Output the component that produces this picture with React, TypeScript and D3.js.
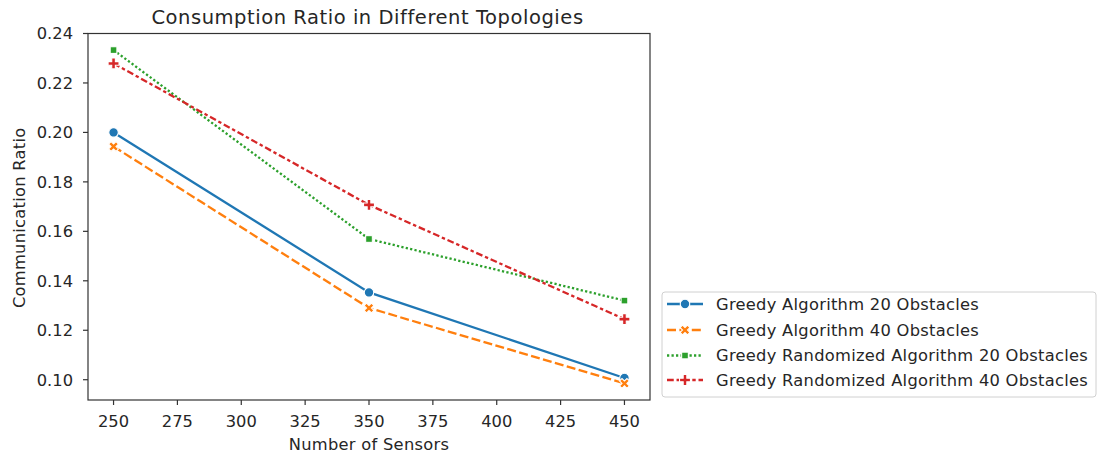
import React from "react";
import * as d3 from "d3";

const sensors = [250, 350, 450];
const greedy20 = [0.2, 0.1353, 0.1007];
const greedy40 = [0.1943, 0.129, 0.0985];
const randomized20 = [0.2333, 0.1569, 0.132];
const randomized40 = [0.2279, 0.1707, 0.1245];
const xTicks = [250, 275, 300, 325, 350, 375, 400, 425, 450];
const yTicks = [0.1, 0.12, 0.14, 0.16, 0.18, 0.2, 0.22, 0.24];
const seriesNames = [
  "Greedy Algorithm 20 Obstacles",
  "Greedy Algorithm 40 Obstacles",
  "Greedy Randomized Algorithm 20 Obstacles",
  "Greedy Randomized Algorithm 40 Obstacles",
];
const colors = ["#1f77b4", "#ff7f0e", "#2ca02c", "#d62728"];
const dashes = ["none", "9,3.4", "2.25,2.25", "6.75,2.8,3.4,2.8"];
const markers = ["o", "X", "s", "P"];

const W = 1097, H = 455;
const left = 88, right = 650, top = 33.5, bottom = 400;
const font = "DejaVu Sans, sans-serif";
const textColor = "#262626";
const fs = 16.3;

function Marker({ type, x, y, color }: { type: string; x: number; y: number; color: string }) {
  const s = 9.5;
  const common = { fill: color, stroke: "white", strokeWidth: 1.1 };
  if (type === "o") return <circle cx={x} cy={y} r={s / 2} {...common} />;
  if (type === "s") {
    const a = s / Math.SQRT2;
    return <rect x={x - a / 2} y={y - a / 2} width={a} height={a} {...common} />;
  }
  const h = s / 2, t = s / 6;
  const pts = [
    [t, h], [t, t], [h, t], [h, -t], [t, -t], [t, -h],
    [-t, -h], [-t, -t], [-h, -t], [-h, t], [-t, t], [-t, h],
  ];
  if (type === "P") {
    const q = pts.map(p => [p[0] * 1.15, p[1] * 1.15]);
    return <polygon points={q.map(p => `${x + p[0]},${y + p[1]}`).join(" ")} {...common} />;
  }
  const c = Math.SQRT1_2;
  const rot = pts.map(p => [(p[0] - p[1]) * c * 1.1, (p[0] + p[1]) * c * 1.1]);
  return <polygon points={rot.map(p => `${x + p[0]},${y + p[1]}`).join(" ")} {...common} />;
}

export default function App() {
  const x = d3.scaleLinear().domain([240, 460]).range([left, right]);
  const yMin = 0.0918, yMax = 0.2400;
  const y = d3.scaleLinear().domain([yMin, yMax]).range([bottom, top]);
  const data = [greedy20, greedy40, randomized20, randomized40];
  const line = d3.line<number>().x((_, i) => x(sensors[i])).y(d => y(d));

  const legX = 662, legY = 292, legW = 434, legH = 105;
  const rowY = [304, 330, 355.5, 380];

  return (
    <svg width={W} height={H} style={{ position: "absolute", left: 0, top: 0, background: "white" }} fontFamily={font}>
      <rect width={W} height={H} fill="white" />
      <text x={(left + right) / 2 - 1.5} y={23.5} textAnchor="middle" fontSize={19.5} letterSpacing={0.55} fill={textColor}>
        Consumption Ratio in Different Topologies
      </text>
      {data.map((d, k) => (
        <path key={k} d={line(d) || ""} fill="none" stroke={colors[k]} strokeWidth={2.3}
          strokeDasharray={dashes[k]} />
      ))}
      {data.map((d, k) =>
        d.map((v, i) => <Marker key={`${k}-${i}`} type={markers[k]} x={x(sensors[i])} y={y(v)} color={colors[k]} />)
      )}
      <rect x={left} y={top} width={right - left} height={bottom - top} fill="none" stroke="#333" strokeWidth={1.2} />
      {xTicks.map(t => (
        <g key={t}>
          <line x1={x(t)} x2={x(t)} y1={bottom} y2={bottom + 5} stroke="#333" strokeWidth={1.2} />
          <text x={x(t)} y={427} textAnchor="middle" fontSize={fs} fill={textColor}>{t}</text>
        </g>
      ))}
      {yTicks.map(t => (
        <g key={t}>
          <line x1={left - 5} x2={left} y1={y(t)} y2={y(t)} stroke="#333" strokeWidth={1.2} />
          <text x={73} y={y(t)} dy="0.36em" textAnchor="end" fontSize={fs} fill={textColor}>{t.toFixed(2)}</text>
        </g>
      ))}
      <text x={(left + right) / 2} y={450} textAnchor="middle" fontSize={fs} letterSpacing={0.28} fill={textColor}>Number of Sensors</text>
      <text transform={`translate(24.5,${(top + bottom) / 2 + 1}) rotate(-90)`} textAnchor="middle" fontSize={fs} letterSpacing={0.28} fill={textColor}>
        Communication Ratio
      </text>
      <rect x={legX} y={legY} width={legW} height={legH} rx={3} fill="white" stroke="#d0d0d0" strokeWidth={1} />
      {seriesNames.map((n, k) => (
        <g key={n}>
          <line x1={667} x2={703} y1={rowY[k]} y2={rowY[k]} stroke={colors[k]} strokeWidth={2.3} strokeDasharray={dashes[k]} />
          <Marker type={markers[k]} x={685} y={rowY[k]} color={colors[k]} />
          <text x={716} y={rowY[k]} dy="0.36em" fontSize={fs} letterSpacing={0.28} fill={textColor}>{n}</text>
        </g>
      ))}
    </svg>
  );
}
